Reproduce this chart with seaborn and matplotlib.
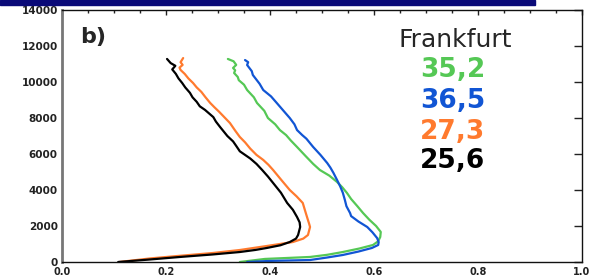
import matplotlib
matplotlib.use("Agg")
import matplotlib.pyplot as plt
from matplotlib.patches import Rectangle
from matplotlib.ticker import MultipleLocator, FormatStrFormatter
import pandas as pd
import seaborn as sns

# profiles: (ratio, altitude in m), top part is jagged
green_x = [0.342, 0.390, 0.430, 0.477, 0.510, 0.540, 0.572, 0.598, 0.608, 0.612, 0.613, 0.604, 0.591,
           0.579, 0.568, 0.556, 0.548, 0.539, 0.529, 0.514, 0.496, 0.483, 0.468, 0.452, 0.440, 0.431,
           0.419, 0.410, 0.396, 0.389, 0.375, 0.369, 0.356, 0.350, 0.340, 0.338, 0.331, 0.333, 0.329,
           0.335, 0.330, 0.319]
green_alt = [0, 170, 220, 280, 400, 555, 750, 945, 1150, 1390, 1670, 2000, 2350,
             2720, 3100, 3500, 3835, 4150, 4445, 4800, 5110, 5450, 5900, 6390, 6750, 7050,
             7330, 7650, 8000, 8400, 8835, 9150, 9555, 9850, 10100, 10280, 10500, 10650, 10780,
             10950, 11150, 11280]

blue_x = [0.356, 0.400, 0.477, 0.510, 0.540, 0.570, 0.596, 0.608, 0.609, 0.606, 0.597, 0.587,
          0.570, 0.556, 0.554, 0.547, 0.544, 0.540, 0.535, 0.529, 0.522, 0.516, 0.510, 0.497,
          0.483, 0.470, 0.462, 0.452, 0.447, 0.438, 0.426, 0.413, 0.402, 0.387, 0.380, 0.367,
          0.365, 0.356, 0.358, 0.352]
blue_alt = [0, 60, 110, 250, 390, 580, 780, 945, 1100, 1330, 1650, 1945,
            2250, 2550, 2720, 3100, 3445, 3850, 4200, 4555, 4950, 5250, 5500, 5950,
            6390, 6850, 7050, 7330, 7650, 8000, 8400, 8835, 9200, 9555, 9900, 10390,
            10600, 10945, 11100, 11220]

orange_x = [0.110, 0.170, 0.222, 0.290, 0.342, 0.394, 0.444, 0.464, 0.473, 0.477, 0.475, 0.473,
            0.468, 0.463, 0.451, 0.438, 0.422, 0.406, 0.397, 0.387, 0.374, 0.362, 0.352, 0.342,
            0.333, 0.323, 0.312, 0.302, 0.293, 0.285, 0.276, 0.268, 0.259, 0.252, 0.243, 0.236,
            0.228, 0.226, 0.232, 0.228, 0.233]
orange_alt = [0, 200, 333, 500, 667, 890, 1110, 1300, 1500, 1945, 2150, 2330,
              2800, 3280, 3650, 4000, 4550, 5110, 5400, 5670, 5950, 6300, 6650, 6945,
              7300, 7720, 8050, 8350, 8600, 8835, 9150, 9450, 9700, 9945, 10200, 10450,
              10670, 10800, 10950, 11100, 11330]

black_x = [0.108, 0.165, 0.227, 0.290, 0.342, 0.372, 0.394, 0.420, 0.438, 0.450, 0.454, 0.458,
           0.457, 0.452, 0.444, 0.433, 0.421, 0.406, 0.396, 0.385, 0.374, 0.362, 0.352, 0.342,
           0.335, 0.329, 0.318, 0.311, 0.304, 0.296, 0.291, 0.281, 0.275, 0.265, 0.259, 0.251,
           0.246, 0.237, 0.231, 0.224, 0.219, 0.212, 0.218, 0.209, 0.202]
black_alt = [0, 130, 280, 420, 555, 670, 780, 930, 1110, 1300, 1500, 1945,
             2200, 2500, 2900, 3280, 3850, 4390, 4750, 5110, 5450, 5750, 5950, 6150,
             6450, 6700, 7000, 7250, 7500, 7800, 8050, 8300, 8450, 8650, 8900, 9150,
             9400, 9700, 9950, 10200, 10450, 10700, 10900, 11050, 11280]

labels = ["35,2", "36,5", "27,3", "25,6"]
colors = ["#55c855", "#1155d4", "#ff7a2e", "#000000"]

df = pd.concat([
    pd.DataFrame({"ratio": green_x, "alt": green_alt, "series": labels[0]}),
    pd.DataFrame({"ratio": blue_x, "alt": blue_alt, "series": labels[1]}),
    pd.DataFrame({"ratio": orange_x, "alt": orange_alt, "series": labels[2]}),
    pd.DataFrame({"ratio": black_x, "alt": black_alt, "series": labels[3]}),
], ignore_index=True)

sns.set_style("white")

fig = plt.figure(figsize=(5.94, 2.77), dpi=100)
ax = fig.add_axes([62 / 594, 1 - 262 / 277, 520 / 594, 252 / 277])

sns.lineplot(data=df, x="ratio", y="alt", hue="series", hue_order=labels,
             palette=dict(zip(labels, colors)), sort=False, estimator=None,
             legend=False, linewidth=1.6, ax=ax)

ax.set_xlim(0, 1)
ax.set_ylim(0, 14000)
ax.set_xlabel("")
ax.set_ylabel("")
ax.xaxis.set_major_locator(MultipleLocator(0.2))
ax.xaxis.set_minor_locator(MultipleLocator(0.05))
ax.xaxis.set_major_formatter(FormatStrFormatter("%.1f"))
ax.yaxis.set_major_locator(MultipleLocator(2000))
ax.tick_params(axis="both", which="both", direction="in", top=True, right=True,
               colors="#222222", labelsize=7.5)
ax.tick_params(axis="y", which="major", length=5.5, width=1, pad=3)
ax.tick_params(axis="x", which="major", length=3.5, width=1, pad=3.5, labelsize=7)
ax.tick_params(axis="x", which="minor", length=2.5, width=1)
for lab in ax.get_xticklabels() + ax.get_yticklabels():
    lab.set_fontweight("bold")

for side in ["top", "right", "bottom"]:
    ax.spines[side].set_color("#111111")
    ax.spines[side].set_linewidth(1.0)
ax.spines["left"].set_color("#777777")
ax.spines["left"].set_linewidth(2.0)

# navy banner at the top edge
fig.patches.append(Rectangle((0, 1 - 5 / 277), 535 / 594, 5 / 277,
                             transform=fig.transFigure, color="#0a0a78", zorder=5))

fig.text(80 / 594, 1 - 43 / 277, "b)", fontsize=16, fontweight="bold", va="baseline")
fig.text(455 / 594, 1 - 47 / 277, "Frankfurt", fontsize=18, ha="center", va="baseline")
for lab, col, base in zip(labels, colors, [77, 108, 139, 168]):
    fig.text(453 / 594, 1 - base / 277, lab, fontsize=19, fontweight="bold",
             color=col, ha="center", va="baseline")

fig.savefig("out.png", dpi=100)
